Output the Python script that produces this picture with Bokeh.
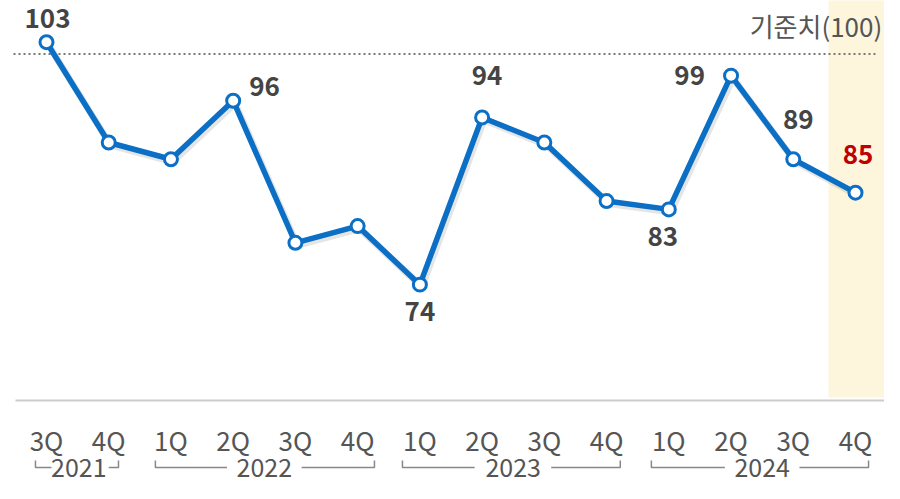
from bokeh.plotting import figure
from bokeh.models import Range1d
from bokeh.core.properties import value
from bokeh.embed import file_html
from bokeh.resources import INLINE

# ---- data ----
quarters = ["3Q", "4Q", "1Q", "2Q", "3Q", "4Q", "1Q", "2Q", "3Q", "4Q", "1Q", "2Q", "3Q", "4Q"]
years = ["2021", "2021", "2022", "2022", "2022", "2022", "2023", "2023", "2023", "2023",
         "2024", "2024", "2024", "2024"]
values = [103, 91, 89, 96, 79, 81, 74, 94, 91, 84, 83, 99, 89, 85]
labeled_idx = [0, 3, 6, 7, 10, 11, 12, 13]
baseline_label = "기준치(100)"
year_names = ["2021", "2022", "2023", "2024"]

FONT = "Noto Sans CJK KR"
BLUE = "#0B6FC6"

x = list(range(len(values)))

p = figure(width=884, height=483, output_backend="svg", toolbar_location=None,
           x_range=Range1d(-0.739, 13.466), y_range=Range1d(50.21, 107.99),
           x_axis_type=None, y_axis_type=None, min_border=0,
           outline_line_color=None, background_fill_color="white")
p.grid.visible = False

AXIS_Y = 60.14
last = len(values) - 1

# highlight latest quarter
p.quad(left=last - 0.434, right=last + 0.6, bottom=AXIS_Y + 0.35, top=112,
       fill_color="#FDF6DC", line_color=None)

# baseline axis line
p.segment(x0=-0.498, y0=AXIS_Y, x1=13.48, y1=AXIS_Y, line_color="#CCCCCC", line_width=2)

# reference dotted line (기준치)
p.segment(x0=-0.53, y0=101.6, x1=13.32, y1=101.6, line_color="#777777",
          line_width=2, line_dash="2 3")
p.text(x=[13.43], y=[105.0], text=[baseline_label], text_align="right",
       text_baseline="middle", text_font=value(FONT), text_font_size="26px",
       text_color="#555555")

# shadow
p.line([v + 0.03 for v in x], [v - 0.3 for v in values], line_color="#000000",
       line_alpha=0.10, line_width=7, line_join="round")
# main line
p.line(x, values, line_color=BLUE, line_width=5.5, line_join="round")
p.scatter(x, values, size=13, fill_color="white", line_color=BLUE, line_width=3)

# value labels
offsets = {0: (1, -24, "center"), 3: (16, -14.7, "left"), 6: (0, 26.5, "center"),
           7: (5, -42, "center"), 10: (-6, 27.5, "center"), 11: (-26, 0, "right"),
           12: (5, -39.7, "center"), 13: (2.5, -37.7, "center")}
for i in labeled_idx:
    dx, dy, al = offsets[i]
    p.text(x=[x[i]], y=[values[i]], text=[str(values[i])], x_offset=dx, y_offset=dy,
           text_align=al, text_baseline="middle", text_font=value(FONT),
           text_font_size="26px", text_font_style="bold",
           text_color="#C00000" if i == last else "#444444")

# quarter tick labels
p.text(x=x, y=[55.42] * len(x), text=quarters, text_align="center",
       text_baseline="middle", text_font=value(FONT), text_font_size="26px",
       text_color="#555555")

# year brackets
pads = {"2021": (0.177, 0.157), "2022": (0.25, 0.27), "2023": (0.28, 0.22), "2024": (0.28, 0.21)}
gaps = {"2021": (0.44, 0.48), "2022": (0.6, 0.6), "2023": (0.62, 0.61), "2024": (0.6, 0.6)}
y_line, y_hook = 52.13, 52.96
xs, ys = [], []
for yr in year_names:
    idx = [i for i, v in enumerate(years) if v == yr]
    lo, hi = idx[0] - pads[yr][0], idx[-1] + pads[yr][1]
    c = (idx[0] + idx[-1]) / 2
    gl, gr = gaps[yr]
    if yr == "2021":
        c = 0.52
    xs.append([lo, lo, c - gl]); ys.append([y_hook, y_line, y_line])
    xs.append([c + gr, hi, hi]); ys.append([y_line, y_line, y_hook])
    p.text(x=[c], y=[52.07], text=[yr], text_align="center",
           text_baseline="middle", text_font=value(FONT), text_font_size="25px",
           text_color="#555555")
p.multi_line(xs, ys, line_color="#888888", line_width=1.5)

open("out.html", "w").write(file_html(p, INLINE))
